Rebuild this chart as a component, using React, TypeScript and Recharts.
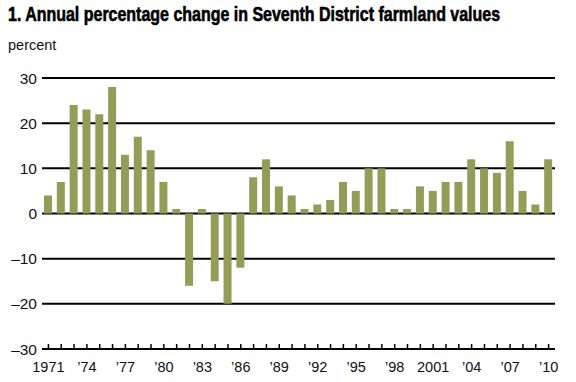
import React, { useLayoutEffect, useRef, useState } from "react";
import { BarChart, Bar, XAxis, YAxis, CartesianGrid } from "recharts";

const years = [
  1971, 1972, 1973, 1974, 1975, 1976, 1977, 1978, 1979, 1980,
  1981, 1982, 1983, 1984, 1985, 1986, 1987, 1988, 1989, 1990,
  1991, 1992, 1993, 1994, 1995, 1996, 1997, 1998, 1999, 2000,
  2001, 2002, 2003, 2004, 2005, 2006, 2007, 2008, 2009, 2010,
];

const changes = [
  4, 7, 24, 23, 22, 28, 13, 17, 14, 7,
  1, -16, 1, -15, -20, -12, 8, 12, 6, 4,
  1, 2, 3, 7, 5, 10, 10, 1, 1, 6,
  5, 7, 7, 12, 10, 9, 16, 5, 2, 12,
];

const yTicks = [-30, -20, -10, 0, 10, 20, 30];

const yearLabels: Record<number, string> = {
  1971: "1971",
  1974: "\u201974",
  1977: "\u201977",
  1980: "\u201980",
  1983: "\u201983",
  1986: "\u201986",
  1989: "\u201989",
  1992: "\u201992",
  1995: "\u201995",
  1998: "\u201998",
  2001: "2001",
  2004: "\u201904",
  2007: "\u201907",
  2010: "\u201910",
};

const data = years.map((year, i) => ({ year, value: changes[i] }));

const FONT = "'Liberation Sans', Arial, Helvetica, sans-serif";
const BAR_COLOR = "#959c58";
const TITLE_WIDTH = 492;

const YearTick = (props: any) => {
  const { x, y, payload } = props;
  const label = yearLabels[payload.value];
  return (
    <g>
      <line x1={x} x2={x} y1={y} y2={y - 5} stroke="#000" strokeWidth={1.5} />
      {label && (
        <text
          x={x}
          y={y + 23}
          textAnchor="middle"
          fontSize={14.5}
          fontFamily={FONT}
          fill="#111"
        >
          {label}
        </text>
      )}
    </g>
  );
};

const formatY = (v: number) => (v < 0 ? `\u2013${Math.abs(v)}` : `${v}`);

// condensed bold title: squeeze Liberation Sans Bold to the reference width
const Title = () => {
  const ref = useRef<HTMLDivElement>(null);
  const [scale, setScale] = useState(0.8);
  useLayoutEffect(() => {
    if (ref.current) {
      const w = ref.current.scrollWidth;
      if (w > 0) setScale(TITLE_WIDTH / w);
    }
  }, []);
  return (
    <div
      ref={ref}
      style={{
        position: "absolute",
        left: 8,
        top: 2,
        fontFamily: FONT,
        fontWeight: "bold",
        fontSize: 20,
        lineHeight: "24px",
        whiteSpace: "nowrap",
        color: "#000",
        WebkitTextStroke: "0.6px #000",
        transform: `scaleX(${scale})`,
        transformOrigin: "0 0",
      }}
    >
      1. Annual percentage change in Seventh District farmland values
    </div>
  );
};

const App = () => (
  <div
    style={{
      position: "absolute",
      left: 0,
      top: 0,
      width: 576,
      height: 382,
      background: "#fff",
      overflow: "hidden",
    }}
  >
    <Title />
    <div
      style={{
        position: "absolute",
        left: 8,
        top: 36,
        fontFamily: FONT,
        fontSize: 14.5,
        lineHeight: "18px",
        color: "#111",
      }}
    >
      percent
    </div>
    <BarChart
      width={576}
      height={382}
      data={data}
      margin={{ top: 78, right: 21, left: 0, bottom: 0 }}
      barCategoryGap={0}
    >
      <CartesianGrid
        vertical={false}
        stroke="#000"
        strokeWidth={2}
        horizontalValues={[-20, -10, 0, 10, 20, 30]}
      />
      <XAxis
        dataKey="year"
        interval={0}
        height={33}
        tickSize={0}
        tickMargin={0}
        tickLine={false}
        axisLine={{ stroke: "#000", strokeWidth: 2 }}
        tick={<YearTick />}
      />
      <YAxis
        width={42}
        domain={[-30, 30]}
        ticks={yTicks}
        tickFormatter={formatY}
        axisLine={false}
        tickLine={false}
        tickSize={0}
        tickMargin={5}
        tick={{ fontSize: 15.5, fontFamily: FONT, fill: "#111" }}
      />
      <Bar
        dataKey="value"
        fill={BAR_COLOR}
        barSize={8}
        isAnimationActive={false}
      />
    </BarChart>
  </div>
);

export default App;
